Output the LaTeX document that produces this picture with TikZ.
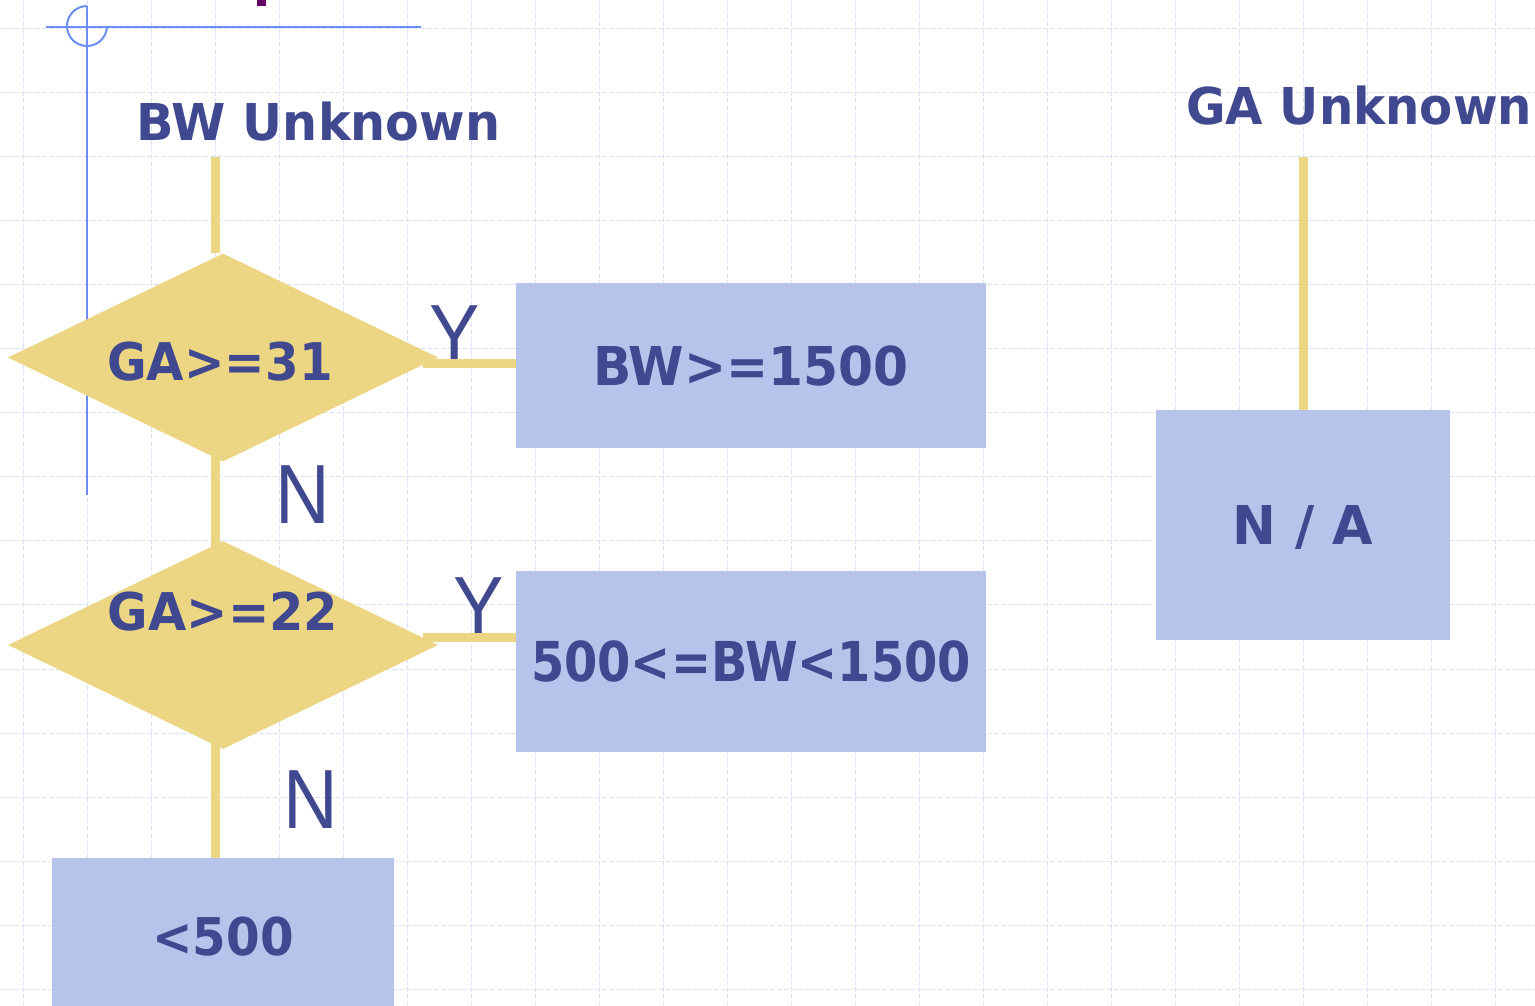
\documentclass[tikz,border=0pt]{standalone}
\usepackage{fontspec}
\usepackage{graphicx}
\usetikzlibrary{shapes.geometric}
\newfontfamily\djfont{DejaVu Sans}
\newfontfamily\libfont{Liberation Sans}
\definecolor{tc}{HTML}{404890}
\definecolor{boxc}{HTML}{B6C3EB}
\definecolor{dia}{HTML}{EDD683}
\definecolor{gridc}{HTML}{DCE1F8}
\definecolor{deco}{HTML}{6E8EF5}
\definecolor{purp}{HTML}{660066}
\pgfdeclarelayer{bg}
\pgfsetlayers{bg,main}
\newcommand\mytxt[3]{{\djfont\bfseries\fontsize{#1pt}{#1pt}\selectfont\scalebox{#2}[1]{#3}}}
\newcommand\mylbl[2]{{\libfont\fontsize{84pt}{84pt}\selectfont\scalebox{#1}[1]{#2}}}
\tikzset{
  txt/.style={text=tc, inner sep=0pt, anchor=base},
  boxn/.style={fill=boxc, draw=none, inner sep=0pt, text=tc, text depth=0pt},
  dian/.style={diamond, fill=dia, draw=none, inner sep=0pt, minimum width=430pt, minimum height=208pt},
  conn/.style={draw=dia, line width=9pt},
  gridl/.style={draw=gridc, line width=1pt, dash pattern=on 5pt off 2pt},
  decol/.style={draw=deco, line width=2pt}
}
\begin{document}
\begin{tikzpicture}[x=1pt,y=-1pt]
\useasboundingbox (0,0) rectangle (1535,1005);
\begin{pgfonlayer}{bg}
\fill[white] (0,0) rectangle (1535,1005);
\foreach \i in {0,...,23} \draw[gridl] ({23+64*\i},0) -- ({23+64*\i},1005);
\foreach \j in {0,...,15} \draw[gridl] (0,{28+64.1*\j}) -- (1535,{28+64.1*\j});
\end{pgfonlayer}
% decoration
\draw[decol] (46,27) -- (421,27);
\draw[decol] (87,6) -- (87,495);
\draw[decol] (87,6) arc[start angle=90, end angle=360, radius=20pt];
\fill[purp] (257,0) rectangle (266,6);
% titles
\node[txt] (bwt) at (318.5,140) {\mytxt{50.8}{0.97}{BW Unknown}};
\node[txt] (gat) at (1359,124) {\mytxt{50.8}{0.95}{GA Unknown}};
% diamonds
\node[dian] (d1) at (223,357.5) {};
\node[dian] (d2) at (223,645) {};
\node[txt] (d1t) at (220,380) {\mytxt{52}{0.93}{GA>=31}};
\node[txt] (d2t) at (223,630) {\mytxt{52}{0.95}{GA>=22}};
% boxes
\node[boxn, minimum width=470pt, minimum height=165pt] (b1) at (751,365.5) {\mytxt{53.5}{0.94}{BW>=1500}};
\node[boxn, minimum width=470pt, minimum height=181pt] (b2) at (751,661.5) {\mytxt{55}{0.87}{500<=BW<1500}};
\node[boxn, minimum width=294pt, minimum height=230pt] (b3) at (1303,525) {\mytxt{53.5}{0.98}{N / A}};
\node[boxn, minimum width=342pt, minimum height=156pt] (b4) at (223,936) {\mytxt{52}{0.93}{<500}};
% Y / N labels
\node[txt] (y1) at (455,363) {\mylbl{0.9}{Y}};
\node[txt] (y2) at (478.5,635) {\mylbl{0.9}{Y}};
\node[txt] (n1) at (303,523) {\mylbl{0.9}{N}};
\node[txt] (n2) at (310.5,828) {\mylbl{0.9}{N}};
% connectors
\coordinate (s1) at (215,157);
\coordinate (s2) at (1303,157);
\begin{pgfonlayer}{bg}
\draw[conn] (s1) -- (s1 |- d1.north);
\draw[conn] (s1 |- d1.center) -- (s1 |- d2.center);
\draw[conn] (s1 |- d2.center) -- (s1 |- b4.north);
\draw[conn] (s2) -- (b3.north);
\end{pgfonlayer}
\draw[conn] ([xshift=-15pt,yshift=-5.5pt]d1.east) -- ([yshift=-5.5pt]d1.east -| b1.west);
\draw[conn] ([xshift=-15pt,yshift=8pt]d2.east) -- ([yshift=8pt]d2.east -| b2.west);
\end{tikzpicture}
\end{document}
